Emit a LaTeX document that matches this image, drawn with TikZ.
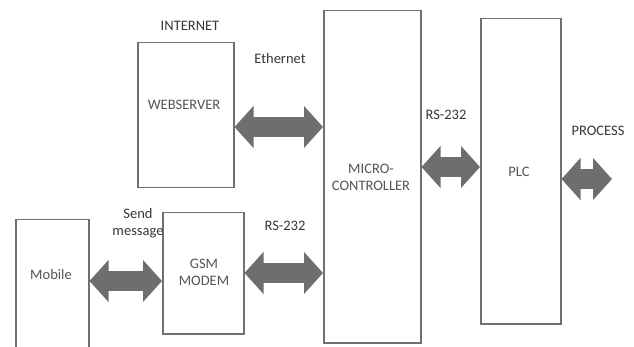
\documentclass[tikz,border=0pt]{standalone}
\usepackage{fontspec}
\setmainfont{Carlito}
\usetikzlibrary{arrows.meta}
\definecolor{edgegray}{RGB}{112,112,112}
\definecolor{arrowgray}{RGB}{110,110,110}
\definecolor{labelgray}{RGB}{55,55,55}
\definecolor{innergray}{RGB}{85,85,85}
\tikzset{
  blockbox/.style={draw=edgegray, line width=1.5pt, fill=none, anchor=north west, inner sep=0pt},
  boxtext/.style={text=innergray, font=\fontsize{14.5}{17}\selectfont, align=center, inner sep=0pt},
  labeltext/.style={text=labelgray, font=\fontsize{14.5}{17}\selectfont, align=center, inner sep=0pt},
  biglink/.style={line width=20pt, draw=arrowgray,
    {Triangle[length=19pt,width=41pt]}-{Triangle[length=19pt,width=41pt]}}
}
\begin{document}
\begin{tikzpicture}[x=1pt,y=-1pt]
  \useasboundingbox (0,0) rectangle (634,347);
  \fill[white] (0,0) rectangle (634,347);

  % blocks
  \node[blockbox, minimum width=96pt, minimum height=145pt] (web) at (137,42) {};
  \node[blockbox, minimum width=97pt, minimum height=332pt] (micro) at (323,10) {};
  \node[blockbox, minimum width=80pt, minimum height=305pt] (plc) at (480,18) {};
  \node[blockbox, minimum width=73pt, minimum height=140pt] (mobile) at (15,219) {};
  \node[blockbox, minimum width=81pt, minimum height=121pt] (gsm) at (162,212) {};

  % texts inside the blocks
  \node[boxtext] (webtxt) at (184,105) {WEBSERVER};
  \node[boxtext] (microtxt) at (371,177) {MICRO-\\CONTROLLER};
  \node[boxtext] (plctxt) at (519,172) {PLC};
  \node[boxtext] (mobiletxt) at (51,275) {Mobile};
  \node[boxtext] (gsmtxt) at (204,272) {GSM\\MODEM};

  % captions
  \node[labeltext] (internet) at (190,26) {INTERNET};
  \node[labeltext] (ethernet) at (280,59) {Ethernet};
  \node[labeltext] (rsa) at (446,115) {RS-232};
  \node[labeltext] (process) at (598,131) {PROCESS};
  \node[labeltext] (sendmsg) at (138,223) {Send\\message};
  \node[labeltext] (rsb) at (285,226) {RS-232};

  % free end of the process link
  \coordinate (procend) at (612,179);

  % bidirectional links
  \draw[biglink] (web.east |- 0,127) -- (micro.west |- 0,127);
  \draw[biglink] (micro.east |- 0,167) -- (plc.west |- 0,167);
  \draw[biglink] (plc.east |- 0,179) -- (procend);
  \draw[biglink] (mobile.east |- 0,281) -- (gsm.west |- 0,281);
  \draw[biglink] (gsm.east |- 0,273) -- (micro.west |- 0,273);
\end{tikzpicture}
\end{document}
